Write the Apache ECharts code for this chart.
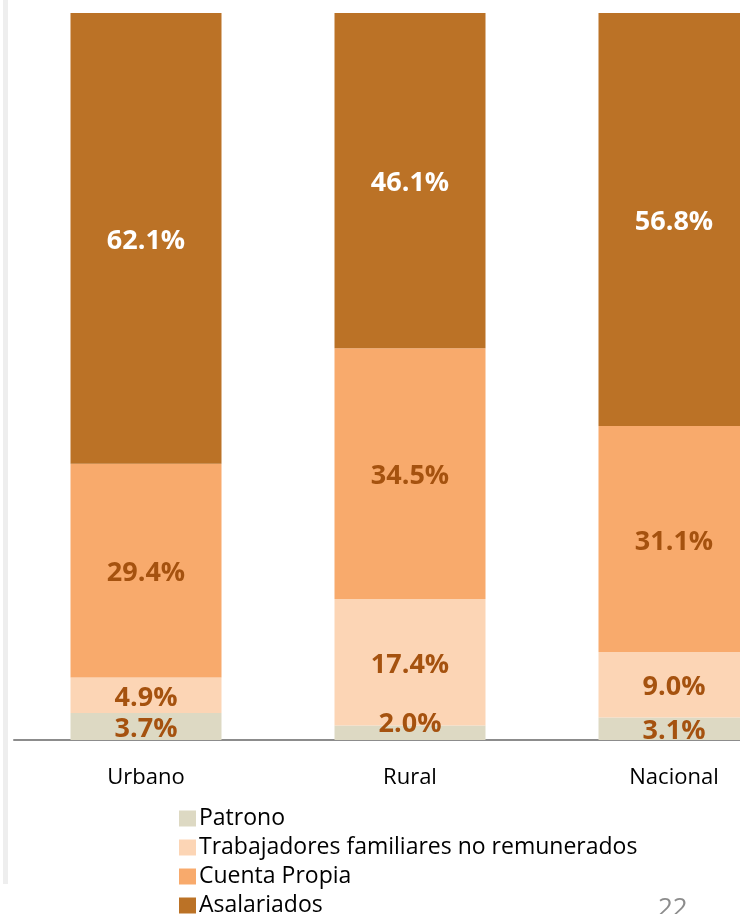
<!DOCTYPE html>
<html lang="es">
<head>
    <meta charset="UTF-8">
    <title>Categoría ocupacional</title>
    <script src="https://cdn.jsdelivr.net/npm/echarts@6/dist/echarts.min.js"></script>
    <style>
        html, body {
            width: 740px;
            height: 914px;
            padding: 0;
            margin: 0;
            overflow: hidden;
            background: #fff;
        }
        /* the original slide cuts the third bar off on the right */
        #chart {
            width: 806px;
            height: 914px;
        }
    </style>
</head>
<body>
<div id="chart"></div>
<script>
    var zonas = ["Urbano", "Rural", "Nacional"];
    var patrono = [3.7, 2.0, 3.1];
    var familiares = [4.9, 17.4, 9.0];
    var cuentaPropia = [29.4, 34.5, 31.1];
    var asalariados = [62.1, 46.1, 56.8];

    var fuente = "Open Sans";
    var marron = "#A5520F";

    function serie(nombre, datos, color, colorTexto) {
        return {
            name: nombre,
            type: "bar",
            stack: "total",
            barWidth: 151,
            data: datos,
            itemStyle: { color: color },
            label: {
                show: true,
                position: "inside",
                offset: [0, 3],
                formatter: function (p) { return p.value.toFixed(1) + "%"; },
                color: colorTexto,
                fontFamily: fuente,
                fontWeight: "bold",
                fontSize: 27
            }
        };
    }

    var series = [
        serie("Patrono", patrono, "#DDD9C3", marron),
        serie("Trabajadores familiares no remunerados", familiares, "#FCD5B5", marron),
        serie("Cuenta Propia", cuentaPropia, "#F8AA6C", marron),
        serie("Asalariados", asalariados, "#BB7226", "#ffffff")
    ];
    // the tiny rural segment has its label nudged up, as in the original
    series[0].data = patrono.map(function (v, i) {
        return i === 1 ? { value: v, label: { offset: [0, -8] } } : v;
    });

    var myChart = echarts.init(document.getElementById("chart"));
    myChart.setOption({
        animation: false,
        grid: { left: 14, top: 13, right: 0, bottom: 174, containLabel: false },
        legend: {
            orient: "vertical",
            left: 174,
            top: 802,
            height: 130,
            itemWidth: 17,
            itemHeight: 16,
            itemGap: 6,
            icon: "rect",
            data: ["Patrono", "Trabajadores familiares no remunerados", "Cuenta Propia", "Asalariados"],
            textStyle: { fontFamily: fuente, fontSize: 23, color: "#000", padding: [0, 0, 0, -2] }
        },
        xAxis: {
            type: "category",
            data: zonas,
            axisLine: { lineStyle: { color: "#8c8c8c", width: 2 } },
            axisTick: { show: false },
            axisLabel: { color: "#000", fontFamily: fuente, fontSize: 22, margin: 27 }
        },
        yAxis: {
            type: "value",
            min: 0,
            max: 100,
            show: false
        },
        graphic: [
            {
                type: "rect",
                shape: { x: 3, y: 0, width: 5, height: 884 },
                style: { fill: "#eeeeee" }
            },
            {
                type: "text",
                left: 658,
                top: 896,
                style: { text: "22", fill: "#8c8c8c", fontSize: 26, fontFamily: fuente }
            }
        ],
        series: series
    });
</script>
</body>
</html>
